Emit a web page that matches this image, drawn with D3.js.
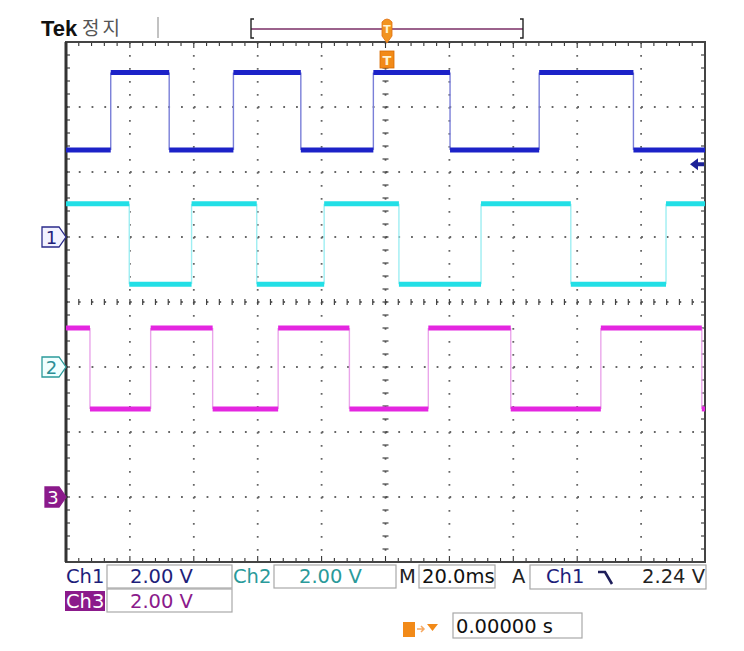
<!DOCTYPE html>
<html><head><meta charset="utf-8">
<script src="https://cdn.jsdelivr.net/npm/d3@7"></script>
<style>html,body{margin:0;padding:0;background:#fff;}svg{display:block;}</style>
</head><body>
<svg id="c" width="744" height="651"></svg>
<script>
// ---- data ----
const timeDomain = [-100, 100];          // ms, 20.0 ms/div, 10 divisions
const divDomain = [-4, 4];               // vertical divisions
const voltsPerDiv = [2.00, 2.00, 2.00];  // Ch1, Ch2, Ch3
const groundDiv = [1, -1, -3];           // ground marker positions (divisions)
const channelNames = ["Ch1", "Ch2", "Ch3"];
// edge times (ms) and level values (V) per channel
const ch1Edges = [-86.0, -67.7, -47.6, -26.5, -3.8, 20.2, 48.1, 77.6];
const ch1Levels = [2.68, 5.06];  // low, high
const ch1StartHigh = false;
const ch2Edges = [-80.2, -60.7, -40.3, -19.2, 4.2, 29.9, 58.0, 87.8];
const ch2Levels = [2.55, 5.02];
const ch2StartHigh = true;
const ch3Edges = [-92.5, -73.5, -54.1, -33.6, -11.3, 13.4, 39.2, 67.4, 99.0];
const ch3Levels = [2.71, 5.20];
const ch3StartHigh = true;
const scaleLabels = ["2.00 V", "2.00 V", "2.00 V"];
const timebaseLabel = "20.0ms";
const triggerSource = "Ch1";
const triggerLevelLabel = "2.24 V";
const triggerLevel = 2.24;
const delayLabel = "0.00000 s";

// ---- layout ----
const svg = d3.select("#c");
const L = 66, R = 705, T = 42, B = 562;
const x = d3.scaleLinear().domain(timeDomain).range([L, R]);
const yd = d3.scaleLinear().domain(divDomain).range([B, T]);
const chY = (ci, v) => yd(groundDiv[ci] + v / voltsPerDiv[ci]);

const font = "'DejaVu Sans', sans-serif";

// ---- graticule ----
const g = svg.append("g");
const xDivs = d3.range(-5, 6).map(d => timeDomain[0] + (d + 5) * 20);
const yDivs = d3.range(divDomain[0], divDomain[1] + 1);
g.selectAll("line.vx").data(xDivs.slice(1, -1)).join("line")
  .attr("x1", d => x(d)).attr("x2", d => x(d)).attr("y1", T).attr("y2", B)
  .attr("stroke", "#666").attr("stroke-width", 1.8)
  .attr("stroke-dasharray", "1.8,11.2");
g.selectAll("line.hy").data(yDivs.slice(1, -1)).join("line")
  .attr("y1", d => yd(d)).attr("y2", d => yd(d)).attr("x1", L).attr("x2", R)
  .attr("stroke", "#666").attr("stroke-width", 1.8)
  .attr("stroke-dasharray", "1.8,10.98");
const minorXs = d3.range(-24, 25).map(i => i * 4).filter(d => d > -100 && d < 100);
const minorY = d3.range(-20, 21).map(i => i / 5).filter(d => d > -4 && d < 4);
g.selectAll("line.cx").data(minorXs).join("line")
  .attr("x1", d => x(d)).attr("x2", d => x(d))
  .attr("y1", yd(0) - 3).attr("y2", yd(0) + 3)
  .attr("stroke", "#444").attr("stroke-width", 1.2);
g.selectAll("line.cy").data(minorY).join("line")
  .attr("y1", d => yd(d)).attr("y2", d => yd(d))
  .attr("x1", x(0) - 3).attr("x2", x(0) + 3)
  .attr("stroke", "#444").attr("stroke-width", 1.2);
g.selectAll("line.tt").data(minorXs).join("line")
  .attr("x1", d => x(d)).attr("x2", d => x(d)).attr("y1", T).attr("y2", d => T + (d % 20 === 0 ? 6 : 4))
  .attr("stroke", "#333").attr("stroke-width", 1.1);
g.selectAll("line.tb").data(minorXs).join("line")
  .attr("x1", d => x(d)).attr("x2", d => x(d)).attr("y1", B).attr("y2", d => B - (d % 20 === 0 ? 6 : 4))
  .attr("stroke", "#333").attr("stroke-width", 1.1);
g.selectAll("line.tl").data(minorY).join("line")
  .attr("y1", d => yd(d)).attr("y2", d => yd(d)).attr("x1", L).attr("x2", L + 4)
  .attr("stroke", "#333").attr("stroke-width", 1.1);
g.selectAll("line.tr").data(minorY).join("line")
  .attr("y1", d => yd(d)).attr("y2", d => yd(d)).attr("x1", R).attr("x2", R - 4)
  .attr("stroke", "#333").attr("stroke-width", 1.1);
g.append("rect").attr("x", L).attr("y", T).attr("width", R - L).attr("height", B - T)
  .attr("fill", "none").attr("stroke", "#444").attr("stroke-width", 2);
g.append("line").attr("x1", L).attr("x2", L).attr("y1", T).attr("y2", B)
  .attr("stroke", "#333").attr("stroke-width", 3);

// ---- traces ----
const traces = [
  {ci: 0, edges: ch1Edges, levels: ch1Levels, startHigh: ch1StartHigh, color: "#1c22c8", edgeColor: "#7a7fd8"},
  {ci: 1, edges: ch2Edges, levels: ch2Levels, startHigh: ch2StartHigh, color: "#22dfe6", edgeColor: "#9eeef2"},
  {ci: 2, edges: ch3Edges, levels: ch3Levels, startHigh: ch3StartHigh, color: "#e426e0", edgeColor: "#eaa6ea"}
];
traces.forEach(tr => {
  const bounds = [timeDomain[0], ...tr.edges, timeDomain[1]];
  const segs = [];
  let high = tr.startHigh;
  for (let i = 0; i < bounds.length - 1; i++) {
    segs.push({t0: bounds[i], t1: bounds[i + 1], v: tr.levels[high ? 1 : 0]});
    high = !high;
  }
  g.append("g").selectAll("line").data(tr.edges).join("line")
    .attr("x1", d => x(d)).attr("x2", d => x(d))
    .attr("y1", chY(tr.ci, tr.levels[0])).attr("y2", chY(tr.ci, tr.levels[1]))
    .attr("stroke", tr.edgeColor).attr("stroke-width", 1.4);
  g.append("g").selectAll("line").data(segs).join("line")
    .attr("x1", d => x(d.t0)).attr("x2", d => x(d.t1))
    .attr("y1", d => chY(tr.ci, d.v)).attr("y2", d => chY(tr.ci, d.v))
    .attr("stroke", tr.color).attr("stroke-width", 5);
});

// ---- channel ground markers ----
const markerStyle = [
  {stroke: "#2a2a8a", fill: "#f2f2ff", text: "#1e1e7a"},
  {stroke: "#2a9a9a", fill: "#f0ffff", text: "#2a8e96"},
  {stroke: "#8b1a8b", fill: "#8b1a8b", text: "#ffffff"}
];
groundDiv.forEach((gd, i) => {
  const cy = yd(gd);
  const m = markerStyle[i];
  const x0 = i === 2 ? 45 : 42;
  const mg = svg.append("g");
  mg.append("path")
    .attr("d", `M${x0},${cy - 10} H${L - 7} L${L},${cy} L${L - 7},${cy + 10} H${x0} Z`)
    .attr("fill", m.fill).attr("stroke", m.stroke).attr("stroke-width", 1.3);
  mg.append("text").attr("x", (x0 + L - 5) / 2).attr("y", cy + 7)
    .attr("text-anchor", "middle").attr("font-family", font).attr("font-size", 18)
    .attr("fill", m.text).text(String(i + 1));
});

// trigger level arrow (right side)
{
  const ty = chY(0, triggerLevel);
  svg.append("path")
    .attr("d", `M${R - 15},${ty} l8,-6 v4 h6 v4 h-6 v4 Z`)
    .attr("fill", "#1c2298");
}

// ---- top bar ----
svg.append("text").attr("x", 41).attr("y", 36)
  .attr("font-family", "'Liberation Sans', Arial, sans-serif").attr("font-weight", "bold")
  .attr("font-size", 22).attr("fill", "#111").text("Tek");
svg.append("text").attr("x", 82).attr("y", 35)
  .attr("font-family", "'Noto Sans CJK KR', sans-serif").attr("font-size", 19)
  .attr("letter-spacing", 3).attr("fill", "#555").text("정지");
svg.append("line").attr("x1", 158).attr("x2", 158).attr("y1", 17).attr("y2", 38)
  .attr("stroke", "#999").attr("stroke-width", 1.2);
const bx0 = 251, bx1 = 523, by = 29;
svg.append("line").attr("x1", bx0).attr("x2", bx1).attr("y1", by).attr("y2", by)
  .attr("stroke", "#7a2e66").attr("stroke-width", 1.6);
svg.append("path").attr("d", `M${bx0 + 3},19 H${bx0} V38 H${bx0 + 3}`)
  .attr("fill", "none").attr("stroke", "#222").attr("stroke-width", 1.4);
svg.append("path").attr("d", `M${bx1 - 3},19 H${bx1} V38 H${bx1 - 3}`)
  .attr("fill", "none").attr("stroke", "#222").attr("stroke-width", 1.4);
{
  const tx = x(0) + 1.5;
  svg.append("path")
    .attr("d", `M${tx - 5},22 Q${tx},16 ${tx + 5},22 V36 L${tx},43 L${tx - 5},36 Z`)
    .attr("fill", "#f29420").attr("stroke", "#e07010").attr("stroke-width", 0.8);
  svg.append("text").attr("x", tx).attr("y", 33).attr("text-anchor", "middle")
    .attr("font-family", font).attr("font-size", 11).attr("font-weight", "bold")
    .attr("fill", "#fff3d0").text("T");
  svg.append("rect").attr("x", tx - 7).attr("y", 51).attr("width", 14).attr("height", 17)
    .attr("fill", "#f28a18").attr("stroke", "#d86a00").attr("stroke-width", 0.8);
  svg.append("text").attr("x", tx).attr("y", 65).attr("text-anchor", "middle")
    .attr("font-family", font).attr("font-size", 13).attr("font-weight", "bold")
    .attr("fill", "#fff3d0").text("T");
}

// ---- readouts ----
const fs = 19.5;
function box(x0, y0, w, h) {
  svg.append("rect").attr("x", x0).attr("y", y0).attr("width", w).attr("height", h)
    .attr("fill", "#fff").attr("stroke", "#a8a8a8").attr("stroke-width", 1.2);
}
function txt(xp, yp, s, color, anchor) {
  svg.append("text").attr("x", xp).attr("y", yp).attr("font-family", font)
    .attr("font-size", fs).attr("fill", color).attr("text-anchor", anchor || "start").text(s);
}
box(107, 565, 125, 23);
box(274, 565, 122, 23);
box(419, 565, 76, 23);
box(530, 565, 176, 24);
box(107, 589, 125, 23);
box(453, 613, 129, 25);

txt(66, 583, channelNames[0], "#1e1e7a");
txt(130, 583, scaleLabels[0], "#1e1e7a");
txt(233, 583, channelNames[1], "#2a9a9a");
txt(299, 583, scaleLabels[1], "#2a9a9a");
txt(399, 583, "M", "#222");
txt(422, 583, timebaseLabel, "#111");
txt(512, 583, "A", "#222");
txt(546, 583, triggerSource, "#1e1e7a");
svg.append("path").attr("d", "M598,572 H605 L612,584")
  .attr("fill", "none").attr("stroke", "#1e1e5a").attr("stroke-width", 2.6);
txt(705, 583, triggerLevelLabel, "#222", "end");

svg.append("rect").attr("x", 65).attr("y", 591).attr("width", 40).attr("height", 20).attr("fill", "#8b1a8b");
txt(66, 608, channelNames[2], "#ffffff");
txt(130, 608, scaleLabels[2], "#8b1a8b");

svg.append("rect").attr("x", 403).attr("y", 622).attr("width", 12).attr("height", 15)
  .attr("fill", "#f28a18");
svg.append("path").attr("d", "M417,629 H424 M421,626 L424,629 L421,632")
  .attr("fill", "none").attr("stroke", "#f6a860").attr("stroke-width", 1.5);
svg.append("path").attr("d", "M427,624 H438 L432.5,631 Z").attr("fill", "#f28a18");
txt(456, 633, delayLabel, "#111");
</script>
</body></html>
